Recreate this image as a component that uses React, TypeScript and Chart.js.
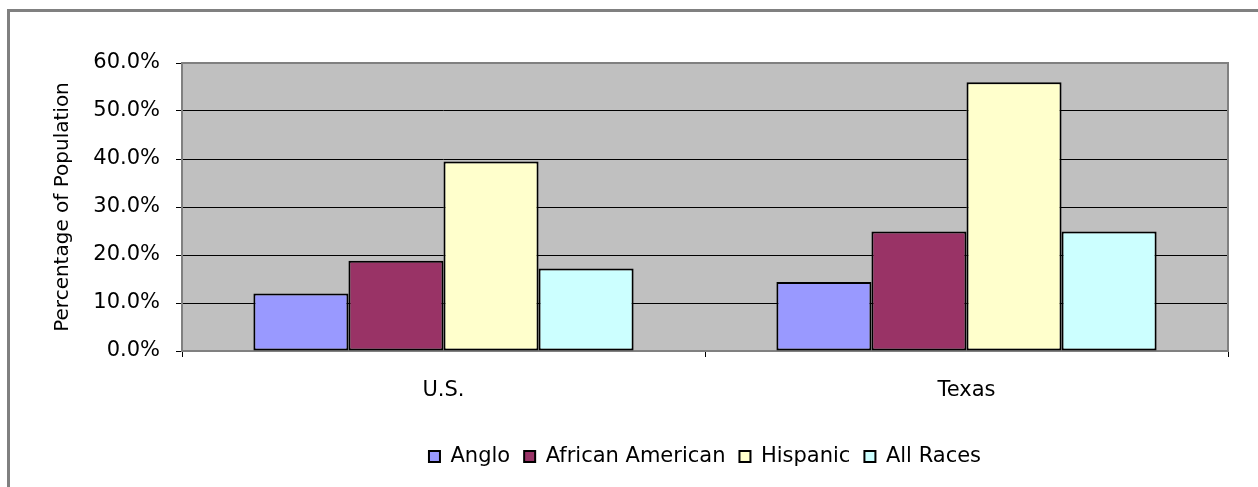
import React, { useEffect, useRef } from "react";
import { Chart, registerables } from "chart.js";

Chart.register(...registerables);

const categories = ["U.S.", "Texas"];
const seriesNames = ["Anglo", "African American", "Hispanic", "All Races"];
const anglo = [12.0, 14.4];
const africanAmerican = [18.8, 24.9];
const hispanic = [39.5, 56.0];
const allRaces = [17.2, 24.9];
const seriesColors = ["#9999FF", "#993366", "#FFFFCC", "#CCFFFF"];
const yTicks = [0, 10, 20, 30, 40, 50, 60];
const yTitle = "Percentage of Population";

const W = 1258;
const H = 487;
const FONT = "'DejaVu Sans', sans-serif";
const PAD_BOTTOM = 10;

const plotBg = {
  id: "plotBg",
  beforeDraw(chart: any) {
    const { ctx, chartArea } = chart;
    ctx.save();
    ctx.fillStyle = "#C0C0C0";
    ctx.fillRect(chartArea.left, chartArea.top, chartArea.right - chartArea.left, chartArea.bottom - chartArea.top);
    ctx.restore();
  },
  beforeDatasetsDraw(chart: any) {
    const { ctx, chartArea } = chart;
    ctx.save();
    ctx.strokeStyle = "#808080";
    ctx.lineWidth = 2;
    ctx.strokeRect(chartArea.left, chartArea.top, chartArea.right - chartArea.left, chartArea.bottom - chartArea.top);
    ctx.restore();
  },
};

export default function App() {
  const ref = useRef<HTMLCanvasElement | null>(null);
  useEffect(() => {
    if (!ref.current) return;
    const values = [anglo, africanAmerican, hispanic, allRaces];
    const chart = new Chart(ref.current, {
      type: "bar",
      data: {
        labels: categories,
        datasets: seriesNames.map((name, i) => ({
          label: name,
          data: values[i],
          backgroundColor: seriesColors[i],
          borderColor: "#000000",
          borderWidth: 2,
          borderSkipped: false,
          categoryPercentage: 0.727,
          barPercentage: 1.0,
        })),
      },
      options: {
        responsive: false,
        animation: false,
        devicePixelRatio: 1,
        layout: { padding: { left: 0, top: 63, right: 30, bottom: PAD_BOTTOM } },
        plugins: {
          legend: {
            position: "bottom",
            fullSize: false,
            labels: {
              font: { family: FONT, size: 21 },
              color: "#000",
              boxWidth: 11,
              boxHeight: 11,
              padding: 14,
            },
          },
          tooltip: { enabled: false },
        },
        scales: {
          x: {
            offset: true,
            grid: {
              display: true,
              drawOnChartArea: false,
              drawTicks: true,
              tickLength: 6,
              offset: true,
              color: "#000",
            },
            border: { display: false },
            ticks: { font: { family: FONT, size: 21 }, color: "#000", padding: 21, maxRotation: 0 },
            afterFit(scale: any) {
              scale.height = 81;
            },
          },
          y: {
            min: 0,
            max: 60,
            afterBuildTicks(scale: any) {
              scale.ticks = yTicks.map((v) => ({ value: v }));
            },
            grid: { color: "#000", lineWidth: 1, tickLength: 6, drawTicks: true },
            border: { display: false },
            ticks: {
              font: { family: FONT, size: 21 },
              color: "#000",
              padding: 16,
              callback: (v: any) => Number(v).toFixed(1) + "%",
            },
            title: {
              display: true,
              text: yTitle,
              font: { family: FONT, size: 20 },
              color: "#000",
              padding: { top: 51, bottom: 0 },
            },
            afterFit(scale: any) {
              scale.width = 182;
            },
          },
        },
      },
      plugins: [plotBg],
    } as any);
    return () => chart.destroy();
  }, []);

  return (
    <div style={{ position: "fixed", left: 0, top: 0, width: W, height: H, overflow: "hidden", background: "#fff" }}>
      <div
        style={{
          position: "absolute",
          left: 7,
          top: 9,
          width: 1400,
          height: 700,
          border: "3px solid #808080",
          boxSizing: "border-box",
        }}
      />
      <canvas ref={ref} width={W} height={H} style={{ position: "absolute", left: 0, top: 0, width: W, height: H }} />
    </div>
  );
}
